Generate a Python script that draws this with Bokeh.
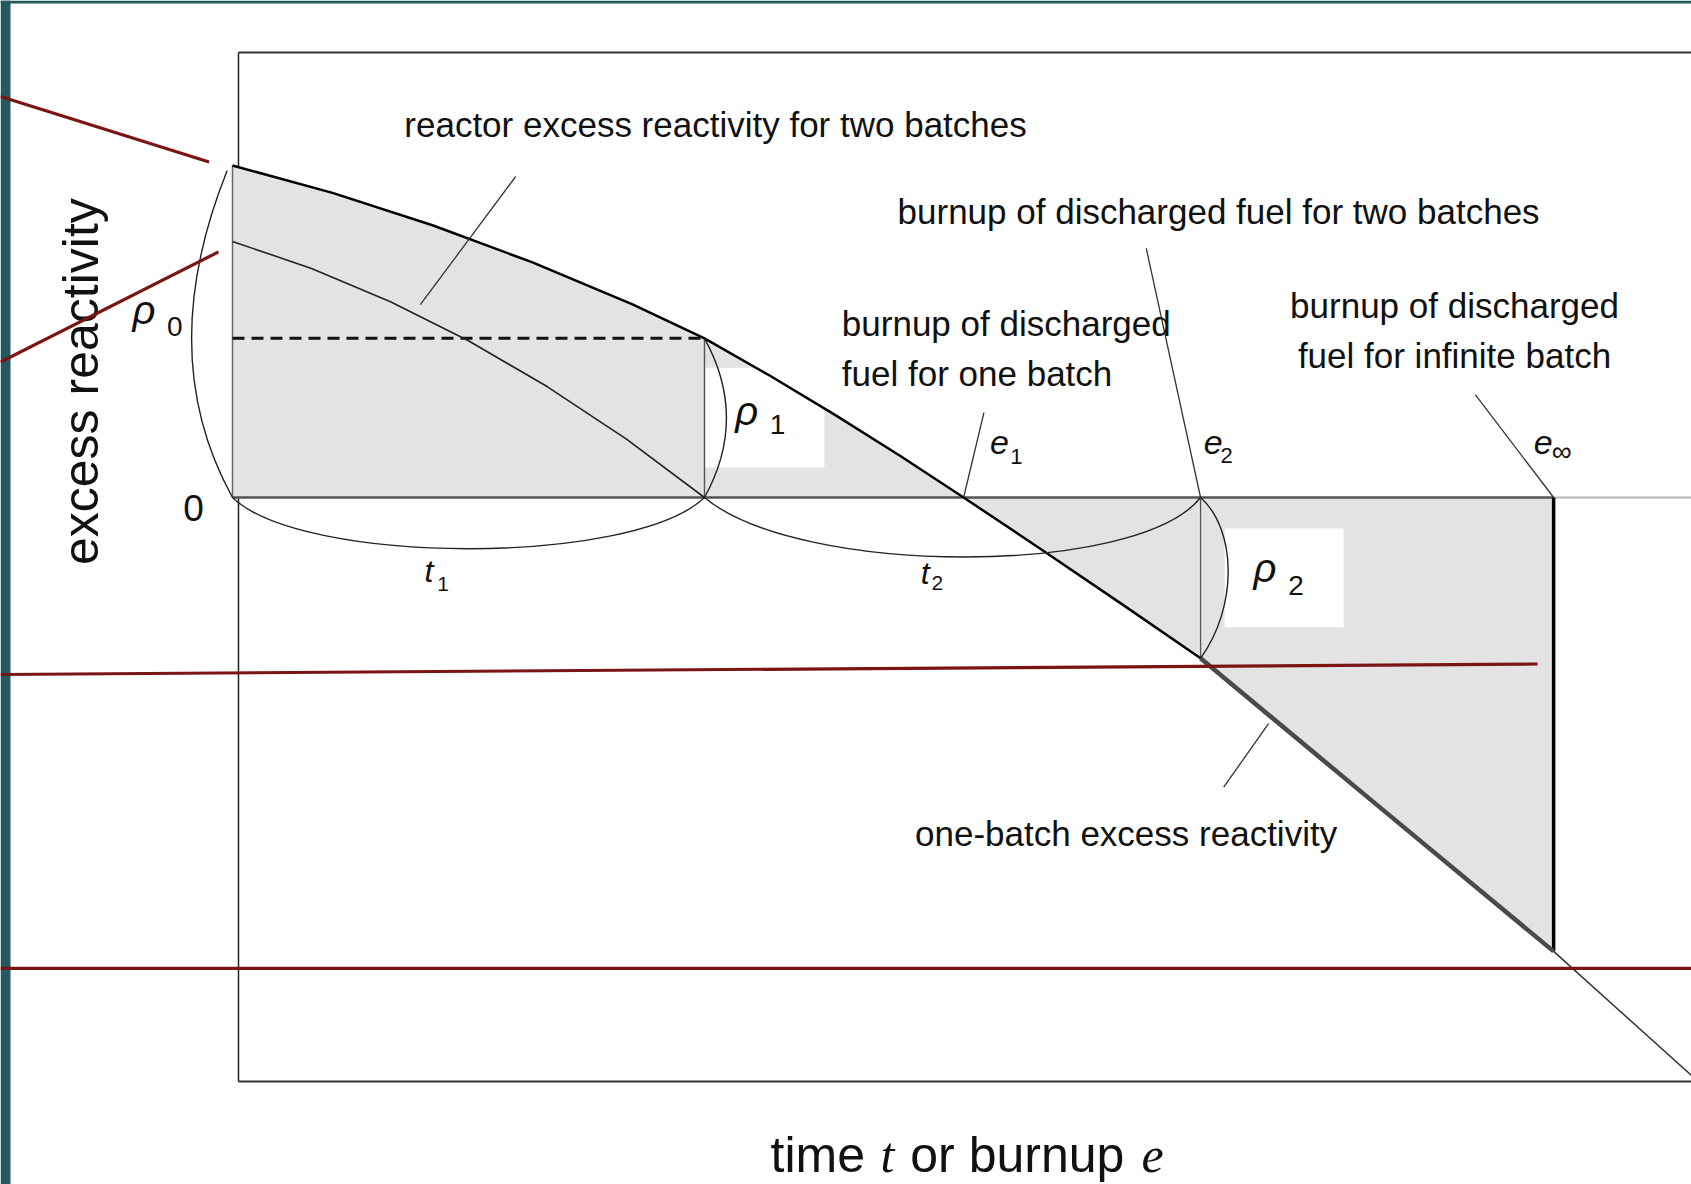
from bokeh.plotting import figure
from bokeh.models import Range1d
from bokeh.core.properties import value
from bokeh.embed import file_html
from bokeh.resources import INLINE

# ---------------- data (x: time / burnup units, y: excess reactivity units) ----------------
# one-batch excess reactivity curve
one_batch_x = [0.0, 0.2119, 0.4237, 0.6356, 0.8475, 1.0, 1.1388, 1.2765, 1.4142,
               1.549, 1.7161, 1.8835, 2.051, 2.4258, 2.799]
one_batch_y = [0.997, 0.9147, 0.8177, 0.7060, 0.5799, 0.478, 0.3655, 0.2480, 0.1252,
               0.0, -0.1583, -0.3195, -0.483, -0.9246, -1.363]
# continuation of the one-batch curve beyond e_inf
one_batch_ext_x = [2.799, 3.0911]
one_batch_ext_y = [-1.363, -1.7357]
# reactor excess reactivity for two batches (first cycle)
two_batch_x = [0.0, 0.1674, 0.3347, 0.5, 0.6674, 0.8347, 1.0]
two_batch_y = [0.7688, 0.688, 0.588, 0.4706, 0.3324, 0.1754, 0.0]

# characteristic points
t1_end = 1.0
e1 = 1.549
e2 = 2.051
e_inf = 2.799
rho0_top = 0.997
rho1_level = 0.478
rho2_level = -0.483
rho_inf_level = -1.363
i_e2 = one_batch_x.index(e2)

FONT = value("Liberation Sans")
INK = "#111111"
DY = 0.039   # baseline correction for text placement


def up(vals):
    return [v + DY for v in vals]


# ---------------- figure ----------------
p = figure(width=1691, height=1184,
           x_range=Range1d(-0.4915, 3.0911), y_range=Range1d(-2.0631, 1.4925),
           output_backend="svg", toolbar_location=None,
           x_axis_location=None, y_axis_location=None, min_border=0)
p.min_border_left = p.min_border_right = p.min_border_top = p.min_border_bottom = 0
p.grid.visible = False
p.outline_line_color = None
p.background_fill_color = "white"
p.border_fill_color = "white"

# slide edge strips
p.quad(left=[-0.4915, -0.4915], right=[-0.4703, 3.0911], top=[1.4925, 1.4925],
       bottom=[-2.0631, 1.4835], fill_color="#24595f", line_color=None)

# frame box
p.line([0.0127, 0.0127], [1.336, -1.754], line_color="#222222", line_width=1.5)
p.line([0.0127, 3.2], [1.336, 1.336], line_color="#333333", line_width=2)
p.line([0.0127, 3.2], [-1.754, -1.754], line_color="#333333", line_width=2)

# shaded area between one-batch curve and zero
p.varea(x=one_batch_x, y1=one_batch_y, y2=[0.0] * len(one_batch_x),
        fill_color="#e3e3e3")

# white label boxes
p.quad(left=[1.002, 2.102], right=[1.254, 2.354], top=[0.390, -0.093],
       bottom=[0.090, -0.390], fill_color="white", line_color=None)

# zero line
p.line([0.0, e_inf], [0.0, 0.0], line_color="#555555", line_width=2.5)
p.line([e_inf, 3.2], [0.0, 0.0], line_color="#b5b5b5", line_width=2)

# vertical lines
p.line([0.0, 0.0], [0.0, rho0_top], line_color="#666666", line_width=1.5)
p.line([t1_end, t1_end], [0.0, rho1_level], line_color="#555555", line_width=1.4)
p.line([e2, e2], [0.0, rho2_level], line_color="#555555", line_width=1.3)
p.line([e_inf, e_inf], [0.0, rho_inf_level], line_color="black", line_width=3.5)

# dashed level
p.line([0.0, t1_end], [rho1_level, rho1_level], line_color=INK,
       line_width=3, line_dash="12 7")

# curves
p.line(one_batch_x[:i_e2 + 1], one_batch_y[:i_e2 + 1], line_color="black", line_width=2.5,
       line_join="round")
p.line(one_batch_x[i_e2:], one_batch_y[i_e2:], line_color="#4a4a4a", line_width=4.5,
       line_join="round")
p.line(one_batch_ext_x, one_batch_ext_y, line_color="#333333", line_width=1.5)
p.line(two_batch_x, two_batch_y, line_color="#222222", line_width=1.6, line_join="round")

# braces / arcs
p.quadratic(x0=[-0.0114], y0=[0.981], x1=[0.0], y1=[0.0], cx=[-0.1674], cy=[0.4294],
            line_color="#222222", line_width=1.4)
p.quadratic(x0=[t1_end], y0=[rho1_level], x1=[t1_end], y1=[0.0], cx=[1.093], cy=[0.2387],
            line_color="#222222", line_width=1.4)
p.bezier(x0=[e2], y0=[0.0], x1=[e2], y1=[rho2_level], cx0=[2.129], cy0=[-0.10],
         cx1=[2.129], cy1=[-0.33], line_color="#222222", line_width=1.4)
p.bezier(x0=[0.0, t1_end], y0=[0.0, 0.0], x1=[t1_end, e2], y1=[0.0, 0.0],
         cx0=[0.15, 1.20], cy0=[-0.205, -0.238], cx1=[0.85, 1.92], cy1=[-0.205, -0.238],
         line_color="#222222", line_width=1.4)

# leader lines
p.multi_line(xs=[[0.600, 0.398], [1.936, e2], [1.592, e1], [2.633, e_inf], [2.195, 2.100]],
             ys=[[0.964, 0.579], [0.748, 0.0], [0.255, 0.0], [0.309, 0.0], [-0.679, -0.870]],
             line_color="#333333", line_width=1.3)

# annotation texts
p.text(x=[0.364, 1.409, 1.291, 1.291, 1.446],
       y=up([1.081, 0.820, 0.483, 0.333, -1.048]),
       text=["reactor excess reactivity for two batches",
             "burnup of discharged fuel for two batches",
             "burnup of discharged", "fuel for one batch",
             "one-batch excess reactivity"],
       text_font=FONT, text_font_size="35px", text_color=INK,
       text_align="left", text_baseline="alphabetic")
p.text(x=[2.589, 2.589], y=up([0.5375, 0.387]),
       text=["burnup of discharged", "fuel for infinite batch"],
       text_font=FONT, text_font_size="35px", text_color=INK,
       text_align="center", text_baseline="alphabetic")

# axis titles
p.text(x=[-0.320], y=[0.348], text=["excess reactivity"], angle=1.5708,
       text_font=FONT, text_font_size="50px", text_color=INK,
       text_align="center", text_baseline="alphabetic")
p.text(x=[1.140, 1.436], y=up([-2.015, -2.015]), text=["time", "or burnup"],
       text_font=FONT, text_font_size="50px", text_color=INK,
       text_align="left", text_baseline="alphabetic")
p.text(x=[1.373, 1.926], y=up([-2.015, -2.015]), text=["t", "e"],
       text_font=value("Liberation Serif"), text_font_style="italic",
       text_font_size="50px", text_color=INK,
       text_align="left", text_baseline="alphabetic")

# zero tick label
p.text(x=[-0.0826], y=up([-0.0706]), text=["0"], text_font=FONT, text_font_size="37px",
       text_color=INK, text_align="center", text_baseline="alphabetic")

# rho labels
p.text(x=[-0.212, 1.065, 2.163], y=up([0.523, 0.220, -0.252]), text=["ρ", "ρ", "ρ"],
       text_font=FONT, text_font_style="italic", text_font_size="40px",
       text_color=INK, text_align="left", text_baseline="alphabetic")
p.text(x=[-0.139, 1.138, 2.237], y=up([0.475, 0.181, -0.303]), text=["0", "1", "2"],
       text_font=FONT, text_font_size="28px",
       text_color=INK, text_align="left", text_baseline="alphabetic")

# t labels
p.text(x=[0.407, 1.458], y=up([-0.259, -0.267]), text=["t", "t"],
       text_font=FONT, text_font_style="italic", text_font_size="32px",
       text_color=INK, text_align="left", text_baseline="alphabetic")
p.text(x=[0.434, 1.481], y=up([-0.299, -0.297]), text=["1", "2"],
       text_font=FONT, text_font_size="21px",
       text_color=INK, text_align="left", text_baseline="alphabetic")

# e labels
p.text(x=[1.605, 2.058, 2.757], y=up([0.126, 0.126, 0.126]), text=["e", "e", "e"],
       text_font=FONT, text_font_style="italic", text_font_size="34px",
       text_color=INK, text_align="left", text_baseline="alphabetic")
p.text(x=[1.648, 2.093], y=up([0.085, 0.086]), text=["1", "2"],
       text_font=FONT, text_font_size="22px",
       text_color=INK, text_align="left", text_baseline="alphabetic")
p.text(x=[2.795], y=up([0.100]), text=["∞"],
       text_font=FONT, text_font_size="28px",
       text_color=INK, text_align="left", text_baseline="alphabetic")

# presenter's red marker lines
p.multi_line(xs=[[-0.4915, -0.0496], [-0.4915, -0.0297], [-0.4915, 2.765], [-0.4915, 3.0911]],
             ys=[[1.204, 1.0075], [0.4066, 0.7375], [-0.5315, -0.500], [-1.414, -1.414]],
             line_color="#7b1414", line_width=3.2)

open("out.html", "w").write(file_html(p, INLINE))
